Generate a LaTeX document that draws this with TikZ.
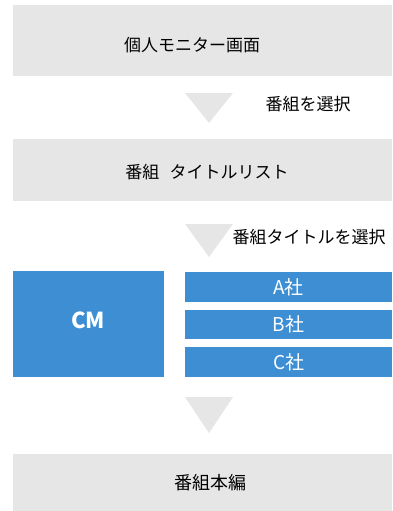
\documentclass[tikz,border=0pt]{standalone}
\usepackage{fontspec}
\setmainfont{Noto Sans CJK JP}
\usetikzlibrary{positioning}

\definecolor{boxgray}{HTML}{E6E6E6}
\definecolor{cmblue}{HTML}{3E8ED4}

\begin{document}
\begin{tikzpicture}[x=1pt, y=-1pt,
    graybox/.style={rectangle, fill=boxgray, inner sep=0pt, anchor=north west},
    bluebox/.style={rectangle, fill=cmblue, inner sep=0pt, anchor=north west},
    tri/.style={fill=boxgray}]
    \useasboundingbox (0,0) rectangle (392,511);

    \node[graybox, minimum width=379pt, minimum height=71pt] (monitor) at (13,5) {};
    \node[font=\fontsize{17}{20}\selectfont] (monitortext) at (192,45) {個人モニター画面};

    \node[graybox, minimum width=379pt, minimum height=62pt] (titlelist) at (13,139) {};
    \node[font=\fontsize{17}{20}\selectfont] (titlelisttext) at (207,172) {番組\hspace{0.6em}タイトルリスト};

    \node[bluebox, minimum width=151pt, minimum height=106pt] (cm) at (13,271) {};
    \node[text=white, font=\fontsize{22}{26}\selectfont\bfseries] (cmtext) at (88,320) {CM};

    \node[bluebox, minimum width=207pt, minimum height=30pt] (a) at (185,272) {};
    \node[bluebox, minimum width=207pt, minimum height=29pt] (b) at (185,310) {};
    \node[bluebox, minimum width=207pt, minimum height=30pt] (c) at (185,347) {};
    \node[text=white, font=\fontsize{19}{22}\selectfont] at (a.center) {A社};
    \node[text=white, font=\fontsize{19}{22}\selectfont] at (b.center) {B社};
    \node[text=white, font=\fontsize{19}{22}\selectfont] at (c.center) {C社};

    \node[graybox, minimum width=379pt, minimum height=57pt] (main) at (13,454) {};
    \node[font=\fontsize{18}{21}\selectfont] (maintext) at (210,483) {番組本編};

    % arrows
    \fill[tri] (185,93) -- (233,93) -- (209,123) -- cycle;
    \fill[tri] (185,224) -- (233,224) -- (209,257) -- cycle;
    \fill[tri] (185,397) -- (233,397) -- (209,433) -- cycle;

    \node[font=\fontsize{17}{20}\selectfont] (select) at (308,104) {番組を選択};
    \node[font=\fontsize{17}{20}\selectfont] (selecttitle) at (309,237) {番組タイトルを選択};
\end{tikzpicture}
\end{document}
